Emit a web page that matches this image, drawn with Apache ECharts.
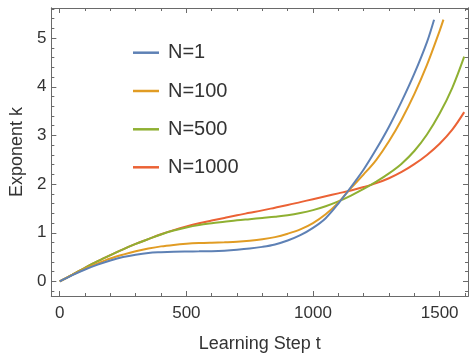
<!DOCTYPE html>
<html><head><meta charset="utf-8">
<script src="https://cdn.jsdelivr.net/npm/echarts@6/dist/echarts.min.js"></script>
<style>html,body{margin:0;padding:0;background:#fff}#c{width:474px;height:358px}</style>
</head><body><div id="c"></div>
<script>
// ---- data ----
const seriesNames = ['N=1', 'N=100', 'N=500', 'N=1000'];
const seriesColors = ['#5E81B5', '#E19C24', '#8FB032', '#EB6235'];

const stepsN1 = [0,50,100,150,200,250,300,350,400,450,500,550,600,650,700,750,800,850,900,950,1000,1050,1100,1150,1200,1250,1300,1350,1400,1450,1478];
const kN1 = [0,0.13,0.245,0.345,0.43,0.50,0.55,0.585,0.60,0.61,0.615,0.618,0.622,0.632,0.65,0.675,0.71,0.76,0.84,0.95,1.10,1.30,1.60,1.94,2.30,2.72,3.18,3.70,4.27,4.92,5.38];

const stepsN100 = [0,50,100,150,200,250,300,350,400,450,500,550,600,650,700,750,800,850,900,950,1000,1050,1100,1150,1200,1250,1300,1350,1400,1450,1500,1515];
const kN100 = [0,0.135,0.26,0.37,0.47,0.55,0.62,0.675,0.72,0.75,0.772,0.787,0.797,0.805,0.815,0.835,0.865,0.91,0.98,1.07,1.20,1.38,1.62,1.92,2.20,2.50,2.88,3.33,3.85,4.45,5.15,5.38];

const stepsN500 = [0,50,100,150,200,250,300,350,400,450,500,550,600,650,700,750,800,850,900,950,1000,1050,1100,1150,1200,1250,1300,1350,1400,1450,1500,1550,1597];
const kN500 = [0,0.14,0.28,0.415,0.54,0.66,0.77,0.87,0.965,1.045,1.11,1.16,1.195,1.225,1.255,1.28,1.305,1.33,1.36,1.405,1.465,1.545,1.645,1.765,1.90,2.05,2.22,2.42,2.68,3.02,3.45,3.98,4.62];

const stepsN1000 = [0,50,100,150,200,250,300,350,400,450,500,550,600,650,700,750,800,850,900,950,1000,1050,1100,1150,1200,1250,1300,1350,1400,1450,1500,1550,1597];
const kN1000 = [0,0.14,0.28,0.415,0.54,0.66,0.77,0.87,0.97,1.055,1.13,1.195,1.25,1.305,1.36,1.41,1.46,1.515,1.57,1.63,1.69,1.75,1.81,1.87,1.94,2.02,2.12,2.25,2.41,2.60,2.83,3.12,3.48];

const xMajorTicks = [0, 500, 1000, 1500];
const xMinorTicks = [100,200,300,400,600,700,800,900,1100,1200,1300,1400,1600];
const yMajorTicks = [0, 1, 2, 3, 4, 5];
const yMinorTicks = [-0.2,0.2,0.4,0.6,0.8,1.2,1.4,1.6,1.8,2.2,2.4,2.6,2.8,3.2,3.4,3.6,3.8,4.2,4.4,4.6,4.8,5.2,5.4,5.6];

const xTitle = 'Learning Step t';
const yTitle = 'Exponent k';

// ---- layout / style ----
const X_MIN = -33, X_MAX = 1612, Y_MIN = -0.30, Y_MAX = 5.62;
const FRAME = '#6a6a6a';
const TEXT = '#333333';
const FONT = '"Liberation Sans", Arial, Helvetica, sans-serif';

function pairs(xs, ys) { return xs.map((x, i) => [x, ys[i]]); }
const plain = v => String(v);

function xAx(pos, ticks, len, withLabel) {
  const a = {
    type: 'value', position: pos, min: X_MIN, max: X_MAX,
    axisLine: { show: true, onZero: false, lineStyle: { color: FRAME, width: 1 } },
    axisTick: { show: true, inside: true, length: len, customValues: ticks, lineStyle: { color: FRAME, width: 1 } },
    axisLabel: { show: withLabel, customValues: ticks, formatter: plain, margin: 9, color: TEXT, fontSize: 17, fontFamily: FONT },
    splitLine: { show: false }
  };
  if (withLabel) {
    a.name = xTitle; a.nameLocation = 'middle'; a.nameGap = 39;
    a.nameTextStyle = { color: TEXT, fontSize: 18, fontFamily: FONT };
  }
  return a;
}
function yAx(pos, ticks, len, withLabel) {
  const a = {
    type: 'value', position: pos, min: Y_MIN, max: Y_MAX,
    axisLine: { show: true, onZero: false, lineStyle: { color: FRAME, width: 1 } },
    axisTick: { show: true, inside: true, length: len, customValues: ticks, lineStyle: { color: FRAME, width: 1 } },
    axisLabel: { show: withLabel, customValues: ticks, formatter: plain, margin: 5, color: TEXT, fontSize: 17, fontFamily: FONT },
    splitLine: { show: false }
  };
  if (withLabel) {
    a.name = yTitle; a.nameLocation = 'middle'; a.nameGap = 24; a.nameRotate = 90;
    a.nameTextStyle = { color: TEXT, fontSize: 18, fontFamily: FONT };
  }
  return a;
}

const stepsList = [stepsN1, stepsN100, stepsN500, stepsN1000];
const kList = [kN1, kN100, kN500, kN1000];

const series = seriesNames.map((name, i) => ({
  name, type: 'line', xAxisIndex: 0, yAxisIndex: 0,
  data: pairs(stepsList[i], kList[i]),
  smooth: 0.35, showSymbol: false, symbol: 'none',
  lineStyle: { color: seriesColors[i], width: 2 },
  itemStyle: { color: seriesColors[i] },
  z: 10 - i
}));

const legendCenters = [52.7, 91, 129.3, 167.3];
const legends = seriesNames.map((name, i) => ({
  data: [name], left: 133, top: legendCenters[i] - 10, orient: 'vertical',
  padding: 0, icon: 'rect', itemWidth: 26, itemHeight: 2.5,
  textStyle: { color: TEXT, fontSize: 20, fontFamily: FONT, padding: [0, 0, 0, 4] },
  selectedMode: false
}));

const chart = echarts.init(document.getElementById('c'), null, { renderer: 'canvas' });
chart.setOption({
  animation: false,
  backgroundColor: '#ffffff',
  grid: { left: 51, right: 6, top: 8, bottom: 54, containLabel: false },
  legend: legends,
  xAxis: [
    xAx('bottom', xMajorTicks, 5, true),
    xAx('bottom', xMinorTicks, 3, false),
    xAx('top', xMajorTicks, 5, false),
    xAx('top', xMinorTicks, 3, false)
  ],
  yAxis: [
    yAx('left', yMajorTicks, 5, true),
    yAx('left', yMinorTicks, 3, false),
    yAx('right', yMajorTicks, 5, false),
    yAx('right', yMinorTicks, 3, false)
  ],
  series
});
</script></body></html>
